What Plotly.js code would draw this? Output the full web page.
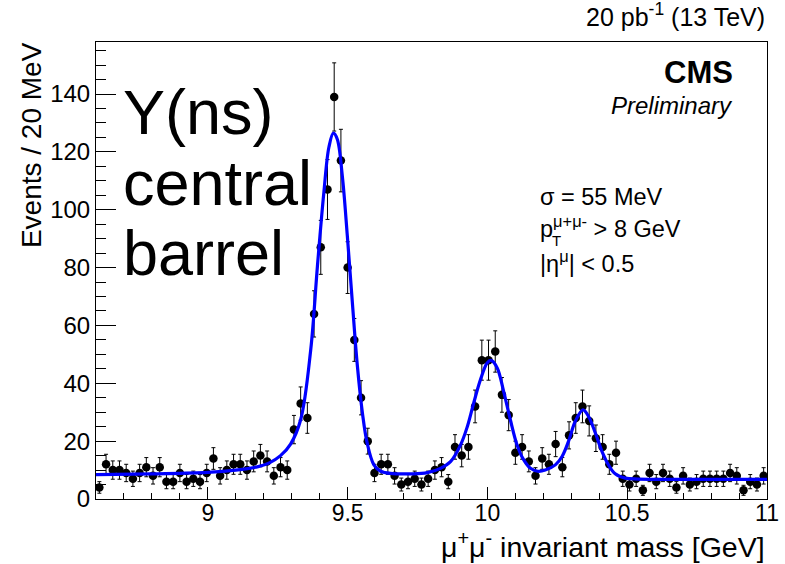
<!DOCTYPE html>
<html>
<head>
<meta charset="utf-8">
<script src="https://cdn.plot.ly/plotly-3.0.1.min.js"></script>
<style>html,body{margin:0;padding:0;background:#fff;}#chart{width:785px;height:564px;}</style>
</head>
<body>
<div id="chart"></div>
<script>
// Histogram: 100 bins from 8.6 to 11.0 GeV
const xMin = 8.6;
const xMax = 11.0;
const binCount = 100;
const counts = [
  4, 12, 10, 10, 9, 7, 9, 11, 8, 11,
  6, 6, 9, 6, 7, 6, 9, 14, 8, 10,
  12, 12, 10, 13, 15, 13, 8, 11, 10, 24,
  33, 28, 64, 87, 107, 139, 117, 80, 55, 35,
  20, 9, 12, 12, 8, 5, 6, 7, 5, 7,
  10, 11, 6, 18, 15, 18, 32, 48, 48, 51,
  36, 29, 16, 18, 13, 8, 14, 12, 19, 11,
  22, 28, 32, 27, 21, 18, 12, 16, 7, 5,
  7, 3, 9, 6, 9, 7, 4, 8, 5, 6,
  7, 7, 7, 7, 9, 8, 3, 6, 5, 8
];
// Fit curve
const fitX = [8.60, 8.80, 9.00, 9.10, 9.18, 9.22, 9.26, 9.296, 9.332, 9.368, 9.392, 9.415, 9.433, 9.449, 9.463, 9.481, 9.499, 9.517, 9.535, 9.553, 9.570, 9.594, 9.618, 9.66, 9.725, 9.785, 9.832, 9.868, 9.904, 9.928, 9.951, 9.975, 9.999, 10.013, 10.035, 10.058, 10.082, 10.106, 10.13, 10.154, 10.18, 10.207, 10.243, 10.267, 10.29, 10.314, 10.342, 10.362, 10.386, 10.41, 10.433, 10.457, 10.493, 10.54, 10.7, 11.0];
const fitY = [8.4, 8.7, 9.2, 10.0, 11.2, 12.5, 15.0, 19.0, 27.4, 51.6, 80.5, 106, 121.6, 126.5, 124.4, 111.7, 90.9, 67.8, 45.9, 29.7, 19.3, 11.8, 9.6, 8.8, 8.7, 9.1, 10.6, 12.9, 18.7, 25, 33.2, 41.2, 47, 47.9, 45.3, 37.2, 27.4, 18.7, 13.5, 10.6, 9.6, 10, 11.8, 14.7, 19.9, 26.8, 30.8, 28.5, 22.8, 16.4, 11.8, 8.7, 7.2, 6.9, 6.8, 6.8];
const xTickVals = [9, 9.5, 10, 10.5, 11];
const yTickVals = [0, 20, 40, 60, 80, 100, 120, 140];

const binW = (xMax - xMin) / binCount;
const centers = counts.map((c, i) => xMin + (i + 0.5) * binW);
const errs = counts.map(c => Math.sqrt(c));

const FONT = '"Liberation Sans", Arial, Helvetica, sans-serif';

const data = [
  {
    x: centers, y: counts, type: 'scatter', mode: 'markers',
    marker: {color: '#000', size: 8.5},
    error_y: {type: 'data', array: errs, visible: true, color: '#000', thickness: 1, width: 2},
    hoverinfo: 'skip', showlegend: false
  },
  {
    x: fitX, y: fitY, type: 'scatter', mode: 'lines',
    line: {color: '#0000ff', width: 3.2, shape: 'spline', smoothing: 1},
    hoverinfo: 'skip', showlegend: false
  }
];

const layout = {
  width: 785, height: 564,
  margin: {l: 96, r: 18, t: 42, b: 65},
  paper_bgcolor: '#fff', plot_bgcolor: '#fff',
  font: {family: FONT, color: '#000', size: 24},
  xaxis: {
    range: [xMin, xMax], tickvals: xTickVals, ticktext: xTickVals.map(String),
    ticks: 'inside', ticklen: 12, tickwidth: 1, tickcolor: '#000',
    minor: {dtick: 0.1, tick0: 8.6, ticks: 'inside', ticklen: 6, tickcolor: '#000', showgrid: false},
    showline: true, linecolor: '#000', linewidth: 1, mirror: true,
    showgrid: false, zeroline: false, tickfont: {size: 23, family: FONT},
    ticklabelstandoff: -7
  },
  yaxis: {
    range: [0, 158], tickvals: yTickVals, ticktext: yTickVals.map(String),
    ticks: 'inside', ticklen: 20, tickwidth: 1, tickcolor: '#000',
    minor: {dtick: 5, tick0: 0, ticks: 'inside', ticklen: 10, tickcolor: '#000', showgrid: false},
    showline: true, linecolor: '#000', linewidth: 1, mirror: true,
    showgrid: false, zeroline: false, tickfont: {size: 24, family: FONT}
  },
  annotations: [
    {text: '20 pb<sup>-1</sup> (13 TeV)', xref: 'paper', yref: 'paper', x: 1.0, y: 1.06, xanchor: 'right', yanchor: 'middle', showarrow: false, font: {size: 25}},
    {text: '<b>CMS</b>', xref: 'paper', yref: 'paper', x: 0.952, y: 0.934, xanchor: 'right', yanchor: 'middle', showarrow: false, font: {size: 31}},
    {text: '<i>Preliminary</i>', xref: 'paper', yref: 'paper', x: 0.952, y: 0.862, xanchor: 'right', yanchor: 'middle', showarrow: false, font: {size: 24}},
    {text: 'σ = 55 MeV', xref: 'paper', yref: 'paper', x: 0.659, y: 0.661, xanchor: 'left', yanchor: 'middle', showarrow: false, font: {size: 23.5}},
    {text: 'p<sup>μ+μ-</sup> > 8 GeV', xref: 'paper', yref: 'paper', x: 0.659, y: 0.596, xanchor: 'left', yanchor: 'middle', showarrow: false, font: {size: 23.5}},
    {text: 'T', xref: 'paper', yref: 'paper', x: 0.677, y: 0.566, xanchor: 'left', yanchor: 'middle', showarrow: false, font: {size: 15}},
    {text: '|η<sup>μ</sup>| < 0.5', xref: 'paper', yref: 'paper', x: 0.659, y: 0.519, xanchor: 'left', yanchor: 'middle', showarrow: false, font: {size: 23.5}},
    {text: 'Υ(ns)', xref: 'paper', yref: 'paper', x: 0.037, y: 0.847, xanchor: 'left', yanchor: 'middle', showarrow: false, font: {size: 63}},
    {text: 'central', xref: 'paper', yref: 'paper', x: 0.037, y: 0.691, xanchor: 'left', yanchor: 'middle', showarrow: false, font: {size: 63}},
    {text: 'barrel', xref: 'paper', yref: 'paper', x: 0.037, y: 0.538, xanchor: 'left', yanchor: 'middle', showarrow: false, font: {size: 63}},
    {text: 'μ<sup>+</sup>μ<sup>-</sup> invariant mass [GeV]', xref: 'paper', yref: 'paper', x: 1.0, y: -0.1, xanchor: 'right', yanchor: 'middle', showarrow: false, font: {size: 28.5}},
    {text: 'Events / 20 MeV', xref: 'paper', yref: 'paper', x: -0.097, y: 1.004, xanchor: 'center', yanchor: 'top', textangle: -90, showarrow: false, font: {size: 28}}
  ]
};

Plotly.newPlot('chart', data, layout, {displayModeBar: false, staticPlot: true});
</script>
</body>
</html>
